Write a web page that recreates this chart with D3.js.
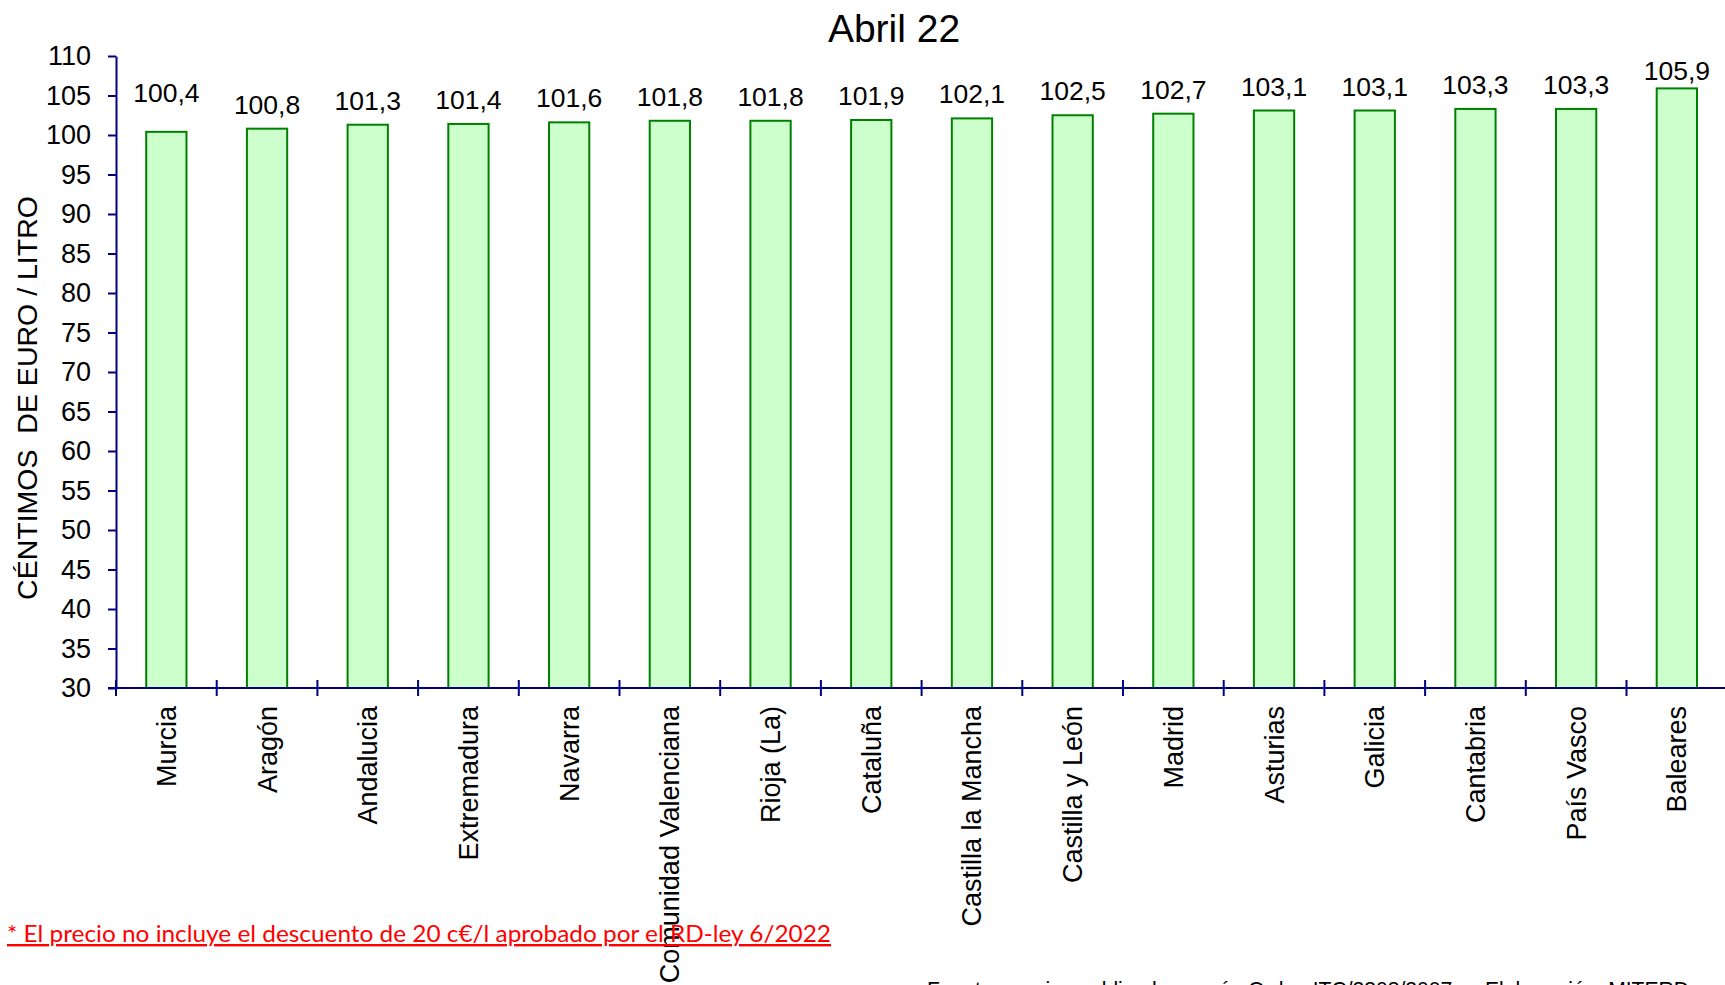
<!DOCTYPE html>
<html>
<head>
<meta charset="utf-8">
<script src="https://cdn.jsdelivr.net/npm/d3@7"></script>
<style>
  html, body { margin: 0; padding: 0; background: #fff; overflow: hidden; }
  svg { display: block; }
  text { font-family: "Liberation Sans", Arial, sans-serif; }
</style>
</head>
<body>
<svg id="chart" width="1725" height="985"></svg>
<script>
// ---- data ----
const categories = ["Murcia", "Aragón", "Andalucia", "Extremadura", "Navarra",
  "Comunidad Valenciana", "Rioja (La)", "Cataluña", "Castilla la Mancha",
  "Castilla y León", "Madrid", "Asturias", "Galicia", "Cantabria", "País Vasco", "Baleares"];
const values = [100.4, 100.8, 101.3, 101.4, 101.6, 101.8, 101.8, 101.9, 102.1,
  102.5, 102.7, 103.1, 103.1, 103.3, 103.3, 105.9];
const yTicks = [30, 35, 40, 45, 50, 55, 60, 65, 70, 75, 80, 85, 90, 95, 100, 105, 110];
const titleText = "Abril 22";
const yTitle = "CÉNTIMOS  DE EURO / LITRO";
const footnote = "* El precio no incluye el descuento de 20 c€/l aprobado por el RD-ley 6/2022";
const sourceText = "Fuente: precios publicados según Orden ITC/2308/2007 — Elaboración: MITERD";

// ---- layout ----
const svg = d3.select("#chart");
const axisColor = "#000080";
const left = 116, step = 100.7;
const plotTop = 56, plotBottom = 688;

const x = d3.scaleBand()
  .domain(categories)
  .range([left, left + step * categories.length])
  .paddingInner(0.6)
  .paddingOuter(0.3);

const y = d3.scaleLinear().domain([30, 110]).range([plotBottom, plotTop]);

// title
svg.append("text")
  .attr("x", 894).attr("y", 42)
  .attr("text-anchor", "middle")
  .style("font-size", "39px")
  .attr("fill", "#000")
  .text(titleText);

// bars
svg.append("g").selectAll("rect")
  .data(values)
  .join("rect")
  .attr("x", (d, i) => x(categories[i]))
  .attr("y", d => y(d))
  .attr("width", x.bandwidth())
  .attr("height", d => y(30) - y(d))
  .attr("fill", "#CCFFCC")
  .attr("stroke", "#008000")
  .attr("stroke-width", 2);

// value labels
const fmt = v => d3.format(".1f")(v).replace(".", ",");
svg.append("g").selectAll("text")
  .data(values)
  .join("text")
  .attr("x", (d, i) => x(categories[i]) + x.bandwidth() / 2)
  .attr("y", (d, i) => {
    const gap = i === 0 ? 30 : 15;
    return Math.max(y(d) - gap, plotTop + 24);
  })
  .attr("text-anchor", "middle")
  .style("font-size", "26.5px")
  .attr("fill", "#000")
  .text(d => fmt(d));

// y axis
const yAxis = svg.append("g")
  .attr("transform", `translate(${left},0)`)
  .call(d3.axisLeft(y).tickValues(yTicks).tickSize(8).tickSizeOuter(0).tickPadding(17)
    .tickFormat(d3.format("d")));
yAxis.select(".domain").attr("stroke", axisColor).attr("stroke-width", 2);
yAxis.selectAll(".tick line").attr("stroke", axisColor).attr("stroke-width", 2);
yAxis.selectAll(".tick text")
  .style("font-size", "27px")
  .style("font-family", "'Liberation Sans', Arial, sans-serif")
  .attr("fill", "#000");

// x axis (labels via band scale)
const xAxis = svg.append("g")
  .attr("transform", `translate(0,${plotBottom})`)
  .call(d3.axisBottom(x).tickSize(0).tickSizeOuter(0));
xAxis.select(".domain")
  .attr("d", `M${left - 8},0H1725`)
  .attr("stroke", axisColor).attr("stroke-width", 2);
xAxis.selectAll(".tick text")
  .attr("transform", "rotate(-90)")
  .attr("x", -18).attr("y", 0).attr("dy", "0.35em")
  .attr("text-anchor", "end")
  .style("font-size", "27px")
  .style("font-family", "'Liberation Sans', Arial, sans-serif")
  .attr("fill", "#000");

// category boundary ticks (crossing the axis)
const boundaries = d3.range(categories.length + 1).map(i => left + i * x.step());
svg.append("g").selectAll("line")
  .data(boundaries)
  .join("line")
  .attr("x1", d => d).attr("x2", d => d)
  .attr("y1", plotBottom - 8).attr("y2", plotBottom + 8)
  .attr("stroke", axisColor).attr("stroke-width", 2);

// y axis title
svg.append("text")
  .attr("transform", "translate(27,398) rotate(-90)")
  .attr("dy", "0.35em")
  .attr("text-anchor", "middle")
  .style("font-size", "28.5px")
  .style("white-space", "pre")
  .attr("fill", "#000")
  .text(yTitle);

// footnote
svg.append("text")
  .attr("x", 7).attr("y", 942)
  .attr("textLength", 824).attr("lengthAdjust", "spacingAndGlyphs")
  .style("font-family", "Lato, 'Open Sans', sans-serif")
  .style("font-size", "24px")
  .style("text-decoration", "underline")
  .attr("fill", "#FF0000")
  .text(footnote);

// source (mostly cropped at bottom, as in the reference)
svg.append("text")
  .attr("x", 927).attr("y", 997)
  .attr("textLength", 762).attr("lengthAdjust", "spacingAndGlyphs")
  .style("font-size", "22px")
  .attr("fill", "#000")
  .text(sourceText);
</script>
</body>
</html>
